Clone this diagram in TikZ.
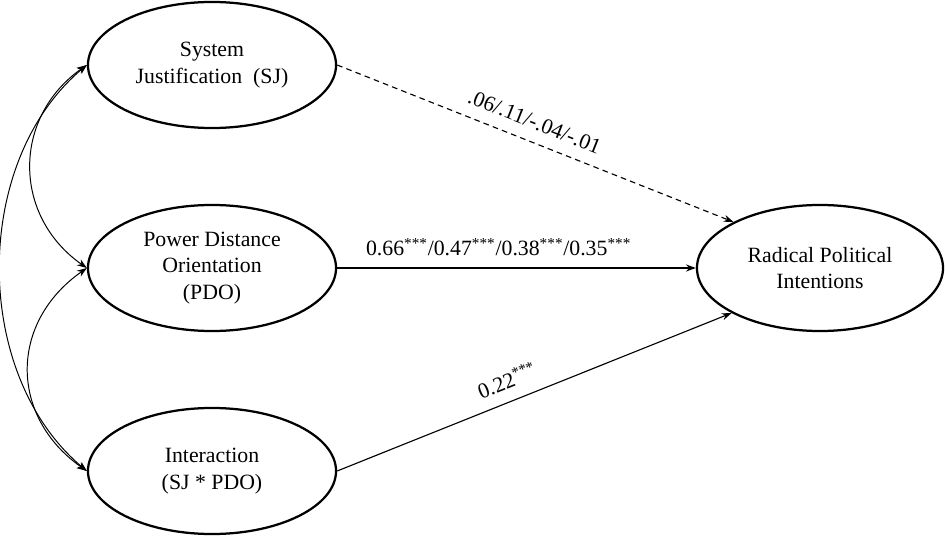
\documentclass[tikz,border=0pt]{standalone}
\usepackage{fontspec}
\setmainfont{Liberation Serif}
\usetikzlibrary{shapes.geometric,arrows.meta}

\tikzset{
    latente/.style={draw, ellipse, line width=1.6pt, inner sep=0pt,
        minimum width=6.2cm, minimum height=3.15cm, align=center,
        font=\fontsize{15.5}{19}\selectfont},
    chemin/.style={-{Stealth[length=7pt,width=5pt]}, line width=0.8pt},
    covar/.style={{Stealth[length=7pt,width=5pt]}-{Stealth[length=7pt,width=5pt]}, line width=0.7pt},
    coef/.style={font=\fontsize{15.5}{19}\selectfont, sloped, above=5pt}
}

\begin{document}
\begin{tikzpicture}[x=0.025cm, y=-0.025cm]
        \useasboundingbox (0,0) rectangle (945,537);

        % dessin des variables
        \node[latente] (sj) at (212,65) {System\\Justification~~(SJ)};
        \node[latente] (pdo) at (212,268) {Power Distance\\Orientation\\(PDO)};
        \node[latente] (inter) at (212,471) {Interaction\\(SJ * PDO)};
        \node[latente, minimum width=6.15cm] (rpi) at (820,268) {Radical Political\\Intentions};

        % chemins vers la variable dependante
        \draw[chemin, dashed, dash pattern=on 4pt off 3pt] (sj.east) --
        node[coef, pos=0.48] {.06/.11/-.04/-.01} (rpi.152);

        \draw[chemin] (pdo.east) --
        node[coef, pos=0.45] {0.66\textsuperscript{***}/0.47\textsuperscript{***}/0.38\textsuperscript{***}/0.35\textsuperscript{***}} (rpi.west);

        \draw[chemin] (inter.east) --
        node[coef, pos=0.45] {0.22\textsuperscript{***}} (rpi.207);

        % covariances entre les predicteurs
        \draw[covar] (sj.west) to[out=-145, in=145, looseness=1.15] (pdo.west);
        \draw[covar] (pdo.west) to[out=-145, in=145, looseness=1.2] (inter.west);
        \draw[covar] (sj.west) to[out=-140, in=140, looseness=0.95] (inter.west);
\end{tikzpicture}
\end{document}
